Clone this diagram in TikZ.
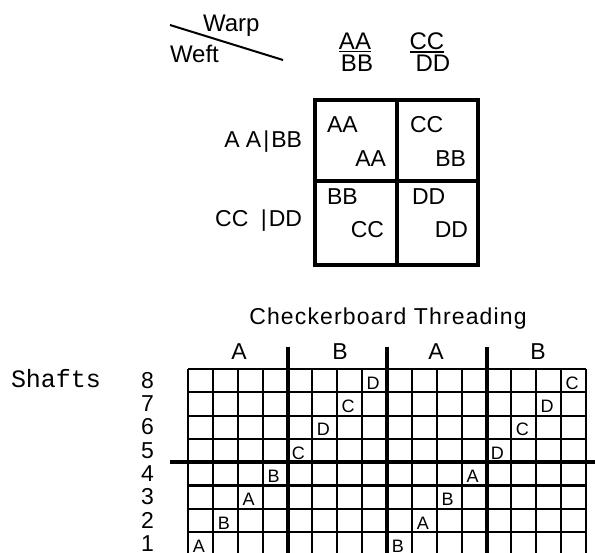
\documentclass[tikz,border=0pt]{standalone}
\usepackage{fontspec}
\setmainfont{Liberation Sans}
\setmonofont{Liberation Mono}
\usetikzlibrary{positioning}

\newcommand{\pxfont}[1]{\fontsize{#1}{#1}\selectfont}

\begin{document}
\begin{tikzpicture}[
  x=1pt,y=-1pt,
  every node/.style={inner sep=0pt,outer sep=0pt},
  lbl/.style={font=\pxfont{24}},
  cell/.style={font=\pxfont{23}},
  thread/.style={font=\pxfont{18},anchor=base},
  heavy/.style={line width=4.5pt},
  rule/.style={line width=2.1pt},
  sep/.style={line width=4pt}
 ]
  \useasboundingbox (0,0) rectangle (595,553);
  % warp / weft corner
  \coordinate (dl) at (170,25);
  \coordinate (dr) at (283,60);
  \draw[line width=2pt] (dl) -- (dr);
  \node[lbl,anchor=base west] (warp) at (203,32) {Warp};
  \node[lbl,anchor=base west] (weft) at (170,63) {Weft};
  % warp fractions
  \node[lbl,anchor=base] (wa1) at (355,50) {AA};
  \node[lbl,anchor=base] (wb1) at (357,72) {BB};
  \node[lbl,anchor=base] (wa2) at (427,50) {CC};
  \node[lbl,anchor=base] (wb2) at (433,72) {DD};
  \draw[line width=1.6pt] ([yshift=-1.5pt]wa1.south west) -- ([yshift=-1.5pt]wa1.south east);
  \draw[line width=1.6pt] ([yshift=-1.5pt]wa2.south west) -- ([yshift=-1.5pt]wa2.south east);
  % weft rows
  \node[cell,anchor=base east] (r1) at (302,148) {A A\kern2pt|\kern2pt BB};
  \node[cell,anchor=base east] (r2) at (302,227) {CC \kern6pt|\kern2pt DD};
  % 2x2 box
  \draw[heavy] (315,100) rectangle (478,265);
  \draw[heavy] (397,100) -- (397,265);
  \draw[heavy] (315,181) -- (478,181);
  \node[cell,anchor=base west] (c11) at (327,133) {AA};
  \node[cell,anchor=base east] (c12) at (386,167) {AA};
  \node[cell,anchor=base west] (c21) at (410,133) {CC};
  \node[cell,anchor=base east] (c22) at (466,167) {BB};
  \node[cell,anchor=base west] (c31) at (327,205) {BB};
  \node[cell,anchor=base east] (c32) at (384,238) {CC};
  \node[cell,anchor=base west] (c41) at (412,205) {DD};
  \node[cell,anchor=base east] (c42) at (468,238) {DD};
  % threading draft
  \node[cell,anchor=base] (title) at (388,325) {\addfontfeatures{LetterSpace=5}Checkerboard Threading};
  \node[font=\ttfamily\pxfont{25},anchor=base west] (shafts) at (11,388) {Shafts};
  \foreach \x/\g in {239/A,340/B,436/A,538/B}
    \node[cell,anchor=base] (grp\x) at (\x,360) {\g};
  \foreach \r in {1,...,8}
    \node[cell,anchor=base east] (n\r) at (154,{369+23.3*(9-\r)-4}) {\r};
  \foreach \c/\r/\t in {1/1/A,2/2/B,3/3/A,4/4/B,5/5/C,6/6/D,7/7/C,8/8/D,
      9/1/B,10/2/A,11/3/B,12/4/A,13/5/D,14/6/C,15/7/D,16/8/C}
    \node[thread] (t\c) at ({188+24.875*(\c-0.5)-1.5},{369+23.3*(9-\r)-3}) {\t};
  \foreach \i in {0,...,16}
    \draw[rule] ({188+24.875*\i},369) -- ({188+24.875*\i},556);
  \foreach \j in {0,...,8}
    \draw[rule] (188,{369+23.3*\j}) -- (586,{369+23.3*\j});
  \foreach \i in {4,8,12}
    \draw[sep] ({188+24.875*\i},347) -- ({188+24.875*\i},556);
  \draw[heavy] (170,{369+23.3*4}) -- (595,{369+23.3*4});
 \end{tikzpicture}
\end{document}
